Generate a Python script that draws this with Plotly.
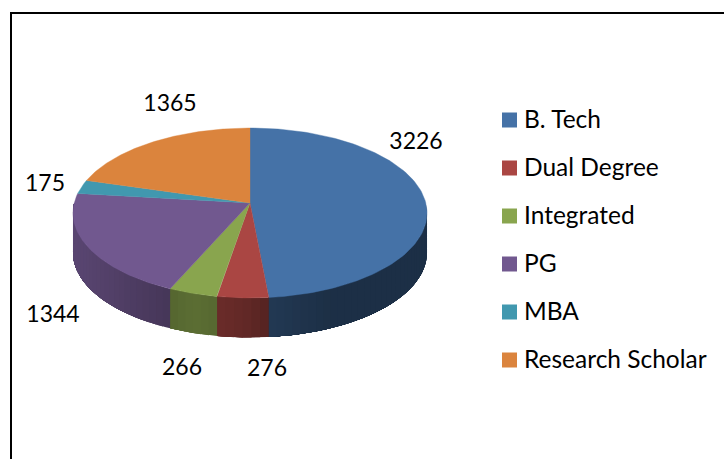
import numpy as np
import plotly.graph_objects as go

categories = ["B. Tech", "Dual Degree", "Integrated", "PG", "MBA", "Research Scholar"]
values = [3226, 276, 266, 1344, 175, 1365]
colors = ["#4572A7", "#AA4643", "#89A54E", "#71588F", "#4198AF", "#DB843D"]
label_x = [416, 267, 182, 53, 45, 170]
label_y = [143, 370, 369, 316, 185, 105]
legend_y = [120, 168, 216, 264, 312, 360]
legend_text_y = [122, 170, 218, 266, 314, 362]

# projection of the pie disc: apex, horizontal and vertical reach, perspective, wall height
CX, CY, BX, AY, P, DEPTH = 250, 203, 175.8, 83.8, 0.1176, 39.5
FONT = "Lato"

def rgb(hexcol, k=1.0):
    h = hexcol.lstrip("#")
    return "rgb(%d,%d,%d)" % tuple(int(int(h[i:i+2], 16) * k) for i in (0, 2, 4))

def shade(x):
    return float(np.interp(x, [73, 170, 195, 245, 270, 330, 427], [.80, .62, .67, .58, .50, .42, .42]))

def rim(t):
    u, v = np.sin(t), np.cos(t)
    d = 1 + P * v
    return CX + BX * u / d, CY - AY * v / d

fig = go.Figure()
total = sum(values)
fracs = np.cumsum([0] + values) / total * 2 * np.pi

# outer wall: each strip runs to the slice end and the next strip paints over it, which avoids seams
for i, col in enumerate(colors):
    a0, a1 = max(fracs[i], np.pi / 2), min(fracs[i + 1], 3 * np.pi / 2)
    if a1 <= a0:
        continue
    n = max(2, int((a1 - a0) / 0.04))
    edges = np.linspace(a0, a1, n + 1)
    for s in edges[:-1]:
        t = np.linspace(s, a1, 40)
        xs, ys = rim(t)
        px = np.r_[xs, xs[::-1], xs[0]]
        py = np.r_[ys, ys[::-1] + DEPTH, ys[0]]
        c = rgb(col, shade(rim(s + 0.02)[0]))
        fig.add_trace(go.Scatter(x=px, y=py, mode="lines", fill="toself", fillcolor=c,
                                 line=dict(width=0), hoverinfo="skip", showlegend=False))

# top face
for i, col in enumerate(colors):
    t = np.linspace(fracs[i], fracs[i + 1], 120)
    xs, ys = rim(t)
    px = np.r_[CX, xs, CX]
    py = np.r_[CY, ys, CY]
    fig.add_trace(go.Scatter(x=px, y=py, mode="lines", fill="toself", fillcolor=col,
                             line=dict(color=col, width=0.4), hoverinfo="skip", showlegend=False))

# value labels
fig.add_trace(go.Scatter(x=label_x, y=label_y, mode="text", text=[str(v) for v in values],
                         textposition="middle center", textfont=dict(family=FONT, size=23, color="#000000"),
                         hoverinfo="skip", showlegend=False))

# legend column
fig.add_trace(go.Scatter(x=[509.5] * len(categories), y=legend_y, mode="markers",
                         marker=dict(symbol="square", size=15, color=colors, line=dict(width=0)),
                         hoverinfo="skip", showlegend=False))
fig.add_trace(go.Scatter(x=[524] * len(categories), y=legend_text_y, mode="text", text=categories,
                         textposition="middle right",
                         textfont=dict(family=FONT, size=24.5, color="#000000"),
                         hoverinfo="skip", showlegend=False))

fig.update_layout(
    width=724, height=459, margin=dict(l=0, r=0, t=0, b=0),
    paper_bgcolor="white", plot_bgcolor="white", showlegend=False,
    xaxis=dict(range=[0, 724], visible=False, fixedrange=True),
    yaxis=dict(range=[459, 0], visible=False, fixedrange=True),
    shapes=[
        dict(type="line", xref="x", yref="y", x0=11, x1=11, y0=12, y1=459, line=dict(color="black", width=2)),
        dict(type="line", xref="x", yref="y", x0=10, x1=724, y0=13, y1=13, line=dict(color="black", width=2)),
    ],
)
fig.write_html("out.html", config={"displayModeBar": False},
               post_script="document.documentElement.style.overflow='hidden';document.body.style.margin='0';")
